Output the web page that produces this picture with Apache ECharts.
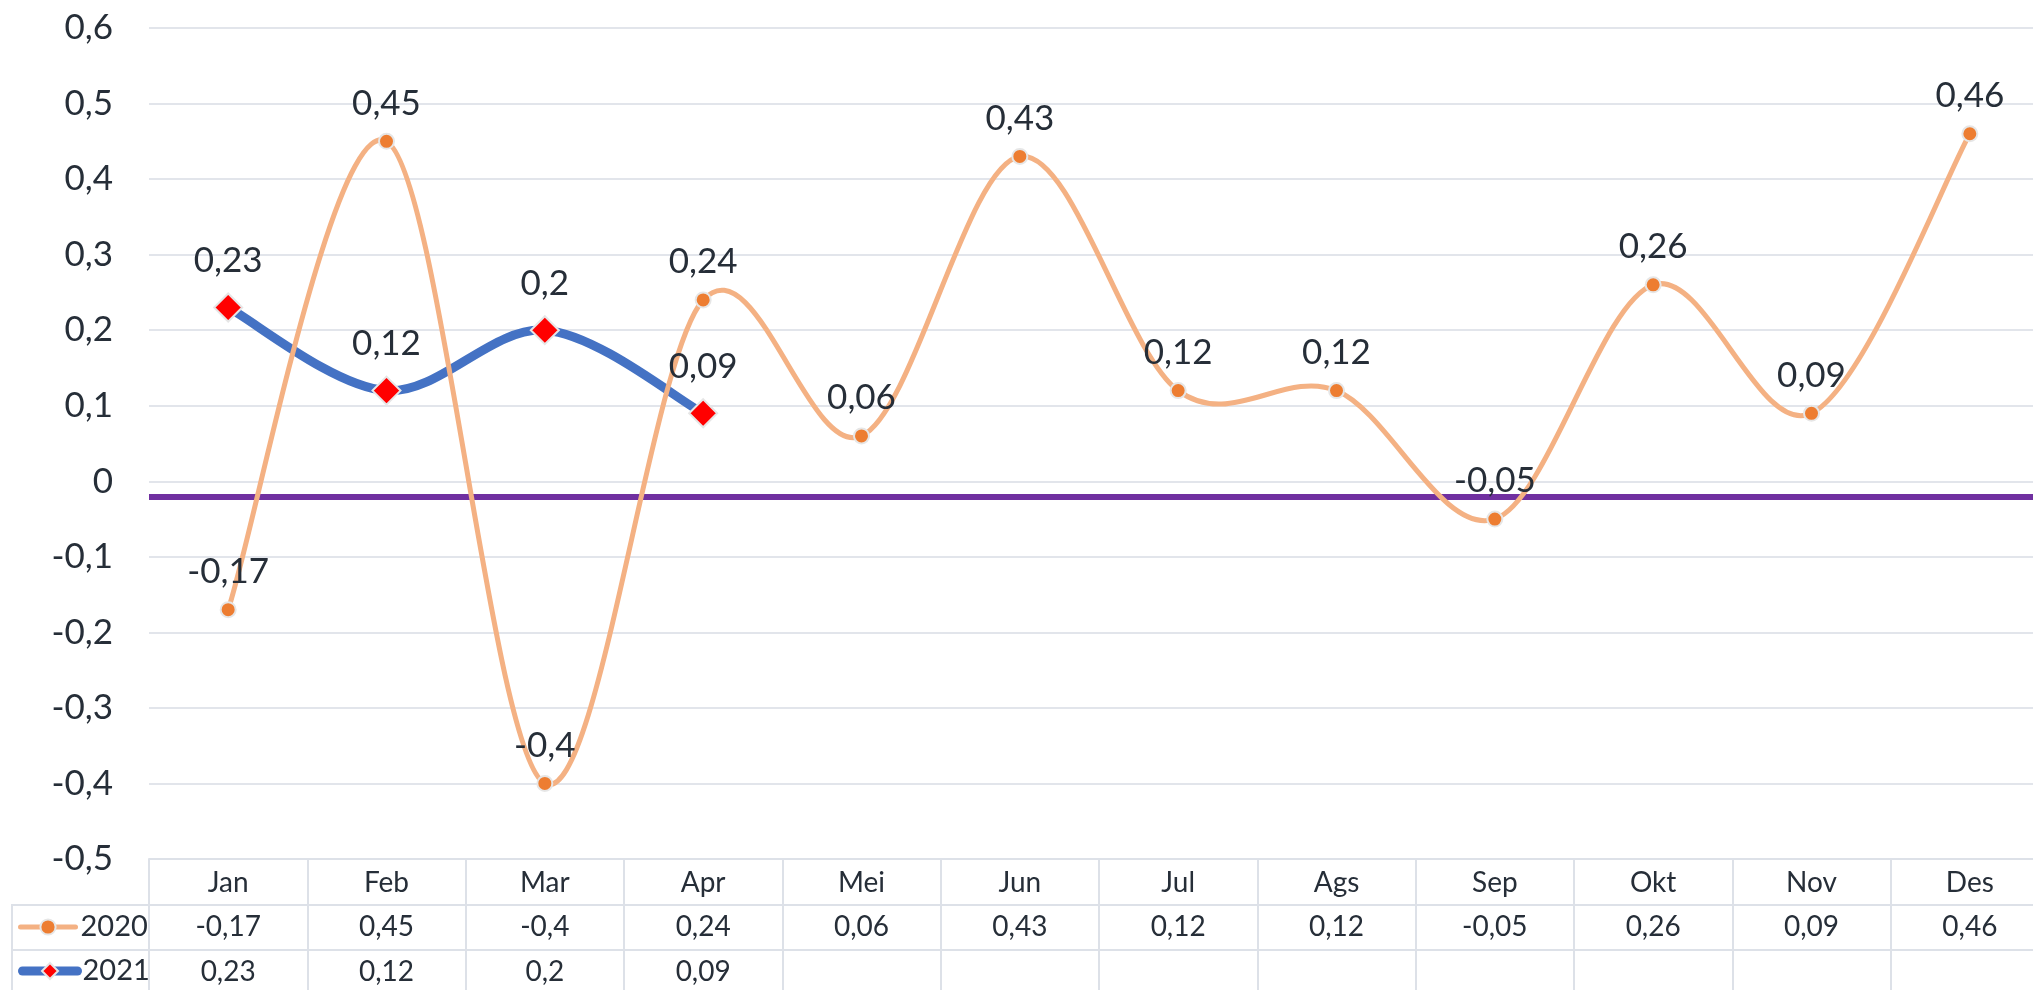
<!DOCTYPE html>
<html>
<head>
<meta charset="utf-8">
<script src="https://cdn.jsdelivr.net/npm/echarts@6/dist/echarts.min.js"></script>
<style>
  html, body { margin: 0; padding: 0; background: #ffffff; }
  #chart { width: 2033px; height: 990px; }
</style>
</head>
<body>
<div id="chart"></div>
<script>
// ---- data ----
const months = ['Jan', 'Feb', 'Mar', 'Apr', 'Mei', 'Jun', 'Jul', 'Ags', 'Sep', 'Okt', 'Nov', 'Des'];
const values2020 = [-0.17, 0.45, -0.4, 0.24, 0.06, 0.43, 0.12, 0.12, -0.05, 0.26, 0.09, 0.46];
const values2021 = [0.23, 0.12, 0.2, 0.09, null, null, null, null, null, null, null, null];
const seriesNames = ['2020', '2021'];
const referenceValue = -0.02;
const yMin = -0.5;
const yMax = 0.6;
const yStep = 0.1;

// ---- styling ----
const FONT = 'Lato';
const TEXT = '#262e38';
const GRID = '#e2e5eb';
const TABLE = '#dde1e8';
const C2020 = '#F4B183';
const C2021 = '#4472C4';

function fmt(v) {
  if (v === null || v === undefined || v === '' || isNaN(v)) return '';
  return String(+(+v).toFixed(2)).replace('.', ',');
}

// Excel-like smoothed segment (Catmull-Rom style bezier) drawn through the axes
function smoothSegment(color, width) {
  return function (params, api) {
    const i = params.dataIndexInside;
    const n = params.dataInsideLength;
    if (i >= n - 1) return null;
    const val = k => api.value(1, k);
    if (isNaN(val(i)) || isNaN(val(i + 1))) return null;
    const pt = k => api.coord([api.value(0, k), val(k)]);
    const p1 = pt(i), p2 = pt(i + 1);
    const p0 = (i > 0 && !isNaN(val(i - 1))) ? pt(i - 1) : p1;
    const p3 = (i + 2 < n && !isNaN(val(i + 2))) ? pt(i + 2) : p2;
    const t = 1 / 6;
    return {
      type: 'bezierCurve',
      shape: {
        x1: p1[0], y1: p1[1], x2: p2[0], y2: p2[1],
        cpx1: p1[0] + (p2[0] - p0[0]) * t, cpy1: p1[1] + (p2[1] - p0[1]) * t,
        cpx2: p2[0] - (p3[0] - p1[0]) * t, cpy2: p2[1] - (p3[1] - p1[1]) * t
      },
      style: { stroke: color, lineWidth: width, fill: null, lineCap: 'round', lineJoin: 'round' },
      silent: true
    };
  };
}

const chart = echarts.init(document.getElementById('chart'));

const option = {
  backgroundColor: '#ffffff',
  animation: false,
  textStyle: { fontFamily: FONT },
  grid: { left: 149, width: 1900, top: 28, bottom: 131, containLabel: false, outerBoundsMode: 'none' },
  legend: [
    {
      data: [{ name: seriesNames[0] }],
      left: 18, top: 912, orient: 'horizontal', padding: 0,
      itemWidth: 55, itemHeight: 19, selectedMode: false,
      lineStyle: { width: 5, cap: 'round', color: C2020, opacity: 1 },
      textStyle: { fontFamily: FONT, fontSize: 29, lineHeight: 30, color: TEXT }
    },
    {
      data: [{ name: seriesNames[1] }],
      left: 18, top: 956, orient: 'horizontal', padding: 0,
      itemWidth: 55, itemHeight: 20, selectedMode: false,
      lineStyle: { width: 9, cap: 'round', color: C2021, opacity: 1 },
      textStyle: { fontFamily: FONT, fontSize: 29, lineHeight: 30, color: TEXT }
    }
  ],
  xAxis: [
    {
      type: 'category', data: months, boundaryGap: true,
      axisLine: { show: true, onZero: false, lineStyle: { color: TABLE, width: 2 } },
      axisTick: { show: true, alignWithLabel: false, length: 135, lineStyle: { color: TABLE, width: 2 } },
      axisLabel: { margin: 10, fontFamily: FONT, fontSize: 28, lineHeight: 28, color: TEXT },
      splitLine: { show: false }
    },
    {
      type: 'category', data: months, boundaryGap: true, position: 'bottom', offset: 46,
      axisLine: { show: true, onZero: false, lineStyle: { color: TABLE, width: 2 } },
      axisTick: { show: false },
      axisLabel: {
        margin: 8, fontFamily: FONT, fontSize: 28, lineHeight: 28, color: TEXT,
        formatter: (v, i) => fmt(values2020[i])
      }
    },
    {
      type: 'category', data: months, boundaryGap: true, position: 'bottom', offset: 91,
      axisLine: { show: true, onZero: false, lineStyle: { color: TABLE, width: 2 } },
      axisTick: { show: false },
      axisLabel: {
        margin: 8, fontFamily: FONT, fontSize: 28, lineHeight: 28, color: TEXT,
        formatter: (v, i) => fmt(values2021[i])
      }
    }
  ],
  yAxis: {
    type: 'value', min: yMin, max: yMax, interval: yStep,
    axisLine: { show: false }, axisTick: { show: false },
    axisLabel: { margin: 36, fontFamily: FONT, fontSize: 35, color: TEXT, formatter: v => fmt(v) },
    splitLine: { show: true, lineStyle: { color: GRID, width: 2 } }
  },
  graphic: [
    { type: 'line', shape: { x1: 12, y1: 905, x2: 149, y2: 905 }, style: { stroke: TABLE, lineWidth: 2 }, silent: true },
    { type: 'line', shape: { x1: 12, y1: 950, x2: 149, y2: 950 }, style: { stroke: TABLE, lineWidth: 2 }, silent: true },
    { type: 'line', shape: { x1: 12, y1: 904, x2: 12, y2: 990 }, style: { stroke: TABLE, lineWidth: 2 }, silent: true }
  ],
  series: [
    {
      name: seriesNames[1] + '-curve', type: 'custom', xAxisIndex: 0, z: 2,
      data: values2021.map((v, i) => [i, v]),
      encode: { x: 0, y: 1 },
      renderItem: smoothSegment(C2021, 9)
    },
    {
      name: seriesNames[0] + '-curve', type: 'custom', xAxisIndex: 0, z: 3,
      data: values2020.map((v, i) => [i, v]),
      encode: { x: 0, y: 1 },
      renderItem: smoothSegment(C2020, 5)
    },
    {
      name: seriesNames[0], type: 'line', xAxisIndex: 0, data: values2020,
      z: 4,
      symbol: 'circle', symbolSize: 15,
      lineStyle: { color: C2020, width: 5, opacity: 0 },
      itemStyle: { color: '#ED7D31', borderColor: '#e6e6e6', borderWidth: 2 },
      label: {
        show: true, position: 'top', distance: 12,
        fontFamily: FONT, fontSize: 35, lineHeight: 35, color: TEXT,
        formatter: p => fmt(p.value)
      },
      markLine: {
        silent: true, symbol: 'none', z: 1,
        label: { show: false },
        lineStyle: { color: '#7030A0', width: 6, type: 'solid' },
        data: [{ yAxis: referenceValue }]
      }
    },
    {
      name: seriesNames[1], type: 'line', xAxisIndex: 0, data: values2021,
      z: 5,
      symbol: 'diamond', symbolSize: 28,
      lineStyle: { color: C2021, width: 9, opacity: 0 },
      itemStyle: { color: '#FF0000', borderColor: '#e6e6e6', borderWidth: 2 },
      label: {
        show: true, position: 'top', distance: 14,
        fontFamily: FONT, fontSize: 35, lineHeight: 35, color: TEXT,
        formatter: p => fmt(p.value)
      }
    }
  ]
};

chart.setOption(option);
</script>
</body>
</html>
